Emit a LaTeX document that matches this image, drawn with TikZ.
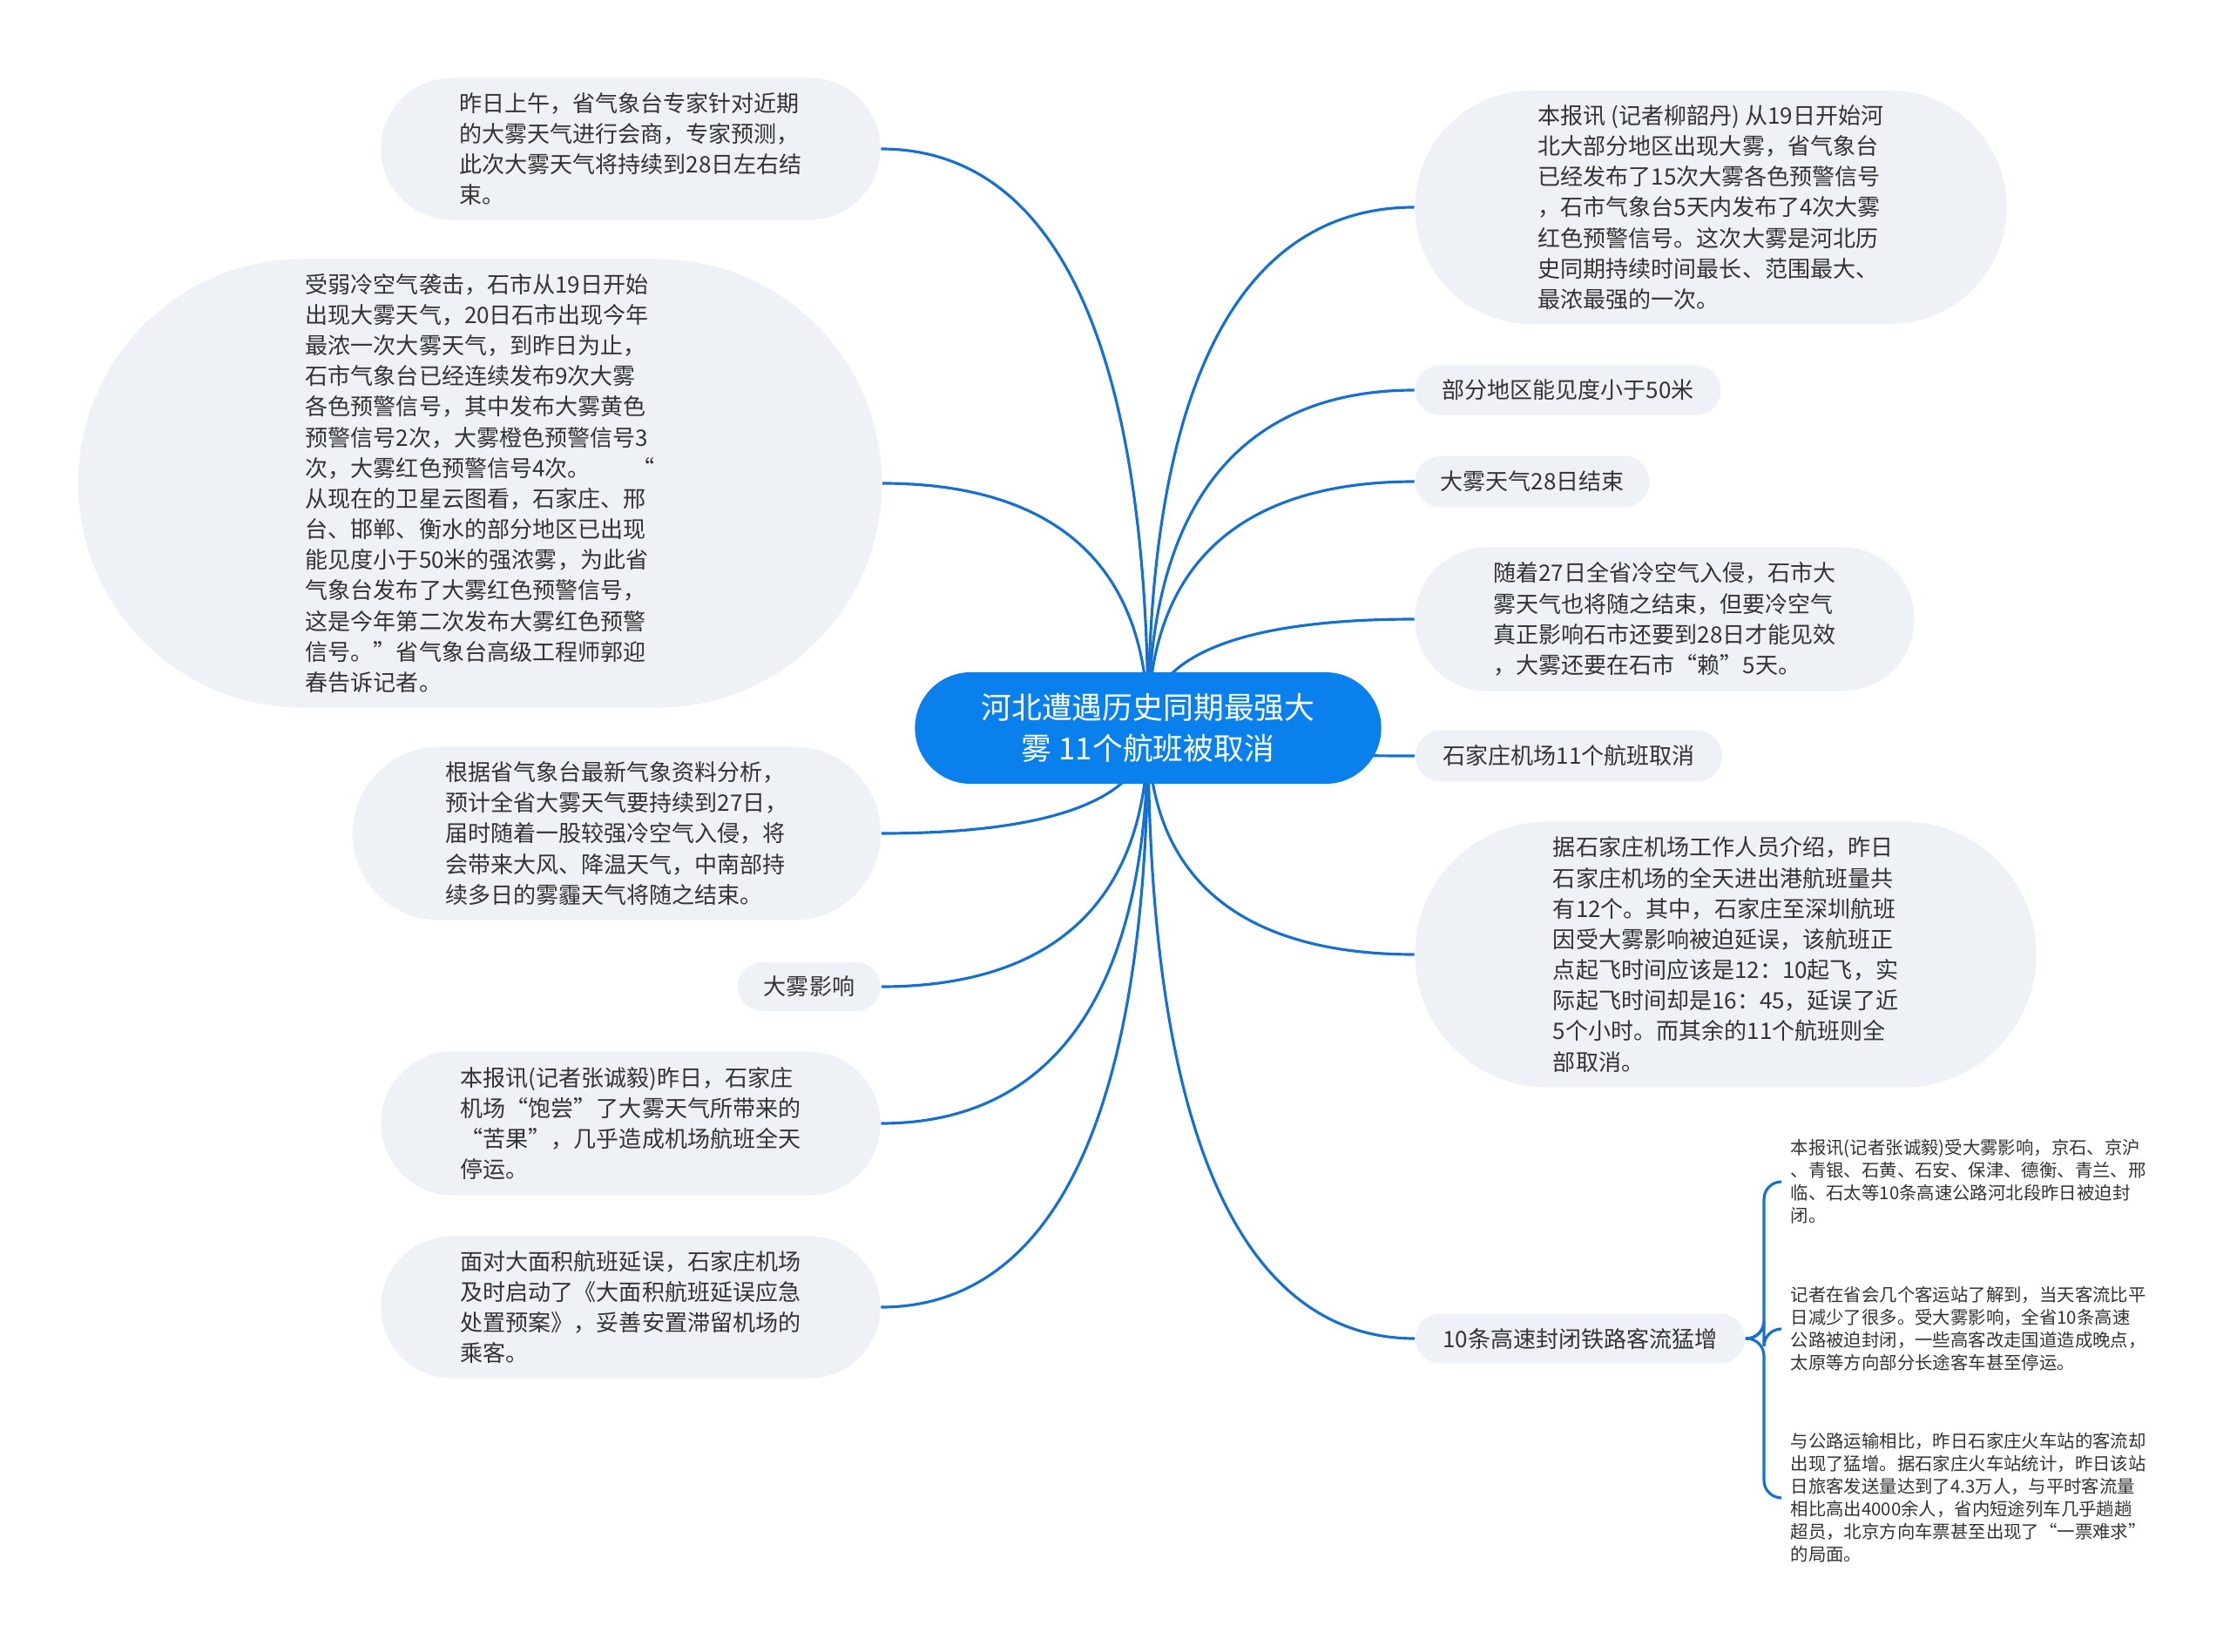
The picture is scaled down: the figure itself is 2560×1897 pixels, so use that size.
\documentclass[tikz,border=0pt]{standalone}
\usepackage{fontspec}
\setmainfont{Noto Sans CJK SC}
\usetikzlibrary{calc,backgrounds}
\definecolor{topicblue}{RGB}{10,128,236}
\definecolor{linkblue}{RGB}{22,112,208}
\definecolor{bubblegray}{RGB}{238,241,245}
\definecolor{textgray}{RGB}{51,51,51}
\tikzset{
topic/.style={fill=topicblue,text=white,align=center,rounded corners=0.64cm,minimum width=5.35cm,minimum height=1.28cm,font=\fontsize{9.9}{13.4}\selectfont},
bubble/.style 2 args={fill=bubblegray,text=textgray,align=left,inner sep=0pt,minimum width=#1,minimum height=#2,rounded corners=#2/2,font=\fontsize{7.4}{10}\selectfont},
leaf/.style={anchor=west,text=textgray,align=left,inner xsep=0.1cm,inner ysep=0pt,font=\fontsize{5.8}{7.4}\selectfont},
link/.style={draw=linkblue,line width=0.9pt}
}

\begin{document}
\begin{tikzpicture}[x=0.01cm,y=-0.01cm]
\useasboundingbox (0,0) rectangle (2560,1897);
\node[topic] (root) at (1318,836) {河北遭遇历史同期最强大\\雾 11个航班被取消};

% left side
\node[bubble={5.73cm}{1.63cm}] (forecast) at (724,171) {昨日上午，省气象台专家针对近期\\的大雾天气进行会商，专家预测，\\此次大雾天气将持续到28日左右结\\束。};
\node[bubble={9.22cm}{5.15cm},text width=4.0cm] (alerts) at (551,555) {受弱冷空气袭击，石市从19日开始\\出现大雾天气，20日石市出现今年\\最浓一次大雾天气，到昨日为止，\\石市气象台已经连续发布9次大雾\\各色预警信号，其中发布大雾黄色\\预警信号2次，大雾橙色预警信号3\\次，大雾红色预警信号4次。\hfill“\\从现在的卫星云图看，石家庄、邢\\台、邯郸、衡水的部分地区已出现\\能见度小于50米的强浓雾，为此省\\气象台发布了大雾红色预警信号，\\这是今年第二次发布大雾红色预警\\信号。”省气象台高级工程师郭迎\\春告诉记者。};
\node[bubble={6.06cm}{1.99cm}] (coldair) at (708,957) {根据省气象台最新气象资料分析，\\预计全省大雾天气要持续到27日，\\届时随着一股较强冷空气入侵，将\\会带来大风、降温天气，中南部持\\续多日的雾霾天气将随之结束。};
\node[bubble={1.64cm}{0.56cm}] (impact) at (929,1133) {大雾影响};
\node[bubble={5.73cm}{1.65cm}] (airport) at (724,1290) {本报讯(记者张诚毅)昨日，石家庄\\机场“饱尝”了大雾天气所带来的\\“苦果”，几乎造成机场航班全天\\停运。};
\node[bubble={5.73cm}{1.63cm}] (plan) at (724,1501) {面对大面积航班延误，石家庄机场\\及时启动了《大面积航班延误应急\\处置预案》，妥善安置滞留机场的\\乘客。};

% right side
\node[bubble={6.79cm}{2.68cm}] (report) at (1964,238) {本报讯 (记者柳韶丹) 从19日开始河\\北大部分地区出现大雾，省气象台\\已经发布了15次大雾各色预警信号\\，石市气象台5天内发布了4次大雾\\红色预警信号。这次大雾是河北历\\史同期持续时间最长、范围最大、\\最浓最强的一次。};
\node[bubble={3.51cm}{0.57cm}] (visibility) at (1800,448) {部分地区能见度小于50米};
\node[bubble={2.69cm}{0.59cm}] (endday) at (1759,553) {大雾天气28日结束};
\node[bubble={5.73cm}{1.65cm}] (relief) at (1911,711) {随着27日全省冷空气入侵，石市大\\雾天气也将随之结束，但要冷空气\\真正影响石市还要到28日才能见效\\，大雾还要在石市“赖”5天。};
\node[bubble={3.52cm}{0.59cm}] (cancel) at (1801,868) {石家庄机场11个航班取消};
\node[bubble={7.13cm}{3.05cm}] (flights) at (1981,1096) {据石家庄机场工作人员介绍，昨日\\石家庄机场的全天进出港航班量共\\有12个。其中，石家庄至深圳航班\\因受大雾影响被迫延误，该航班正\\点起飞时间应该是12：10起飞，实\\际起飞时间却是16：45，延误了近\\5个小时。而其余的11个航班则全\\部取消。};
\node[bubble={3.78cm}{0.57cm}] (highway) at (1814,1537) {10条高速封闭铁路客流猛增};

% details of highway
\node[leaf] (closure) at (2045,1357) {本报讯(记者张诚毅)受大雾影响，京石、京沪\\、青银、石黄、石安、保津、德衡、青兰、邢\\临、石太等10条高速公路河北段昨日被迫封\\闭。};
\node[leaf] (coach) at (2045,1526) {记者在省会几个客运站了解到，当天客流比平\\日减少了很多。受大雾影响，全省10条高速\\公路被迫封闭，一些高客改走国道造成晚点，\\太原等方向部分长途客车甚至停运。};
\node[leaf] (rail) at (2045,1720) {与公路运输相比，昨日石家庄火车站的客流却\\出现了猛增。据石家庄火车站统计，昨日该站\\日旅客发送量达到了4.3万人，与平时客流量\\相比高出4000余人，省内短途列车几乎趟趟\\超员，北京方向车票甚至出现了“一票难求”\\的局面。};

\begin{scope}[on background layer]
\foreach \n in {forecast,alerts,coldair,impact,airport,plan}
  \draw[link] (root.center) .. controls ($(root.center)!.8!(root.center|-\n.east)$) and ($(\n.east)!.5!(root.center|-\n.east)$) .. (\n.east);
\foreach \n in {report,visibility,endday,relief,cancel,flights,highway}
  \draw[link] (root.center) .. controls ($(root.center)!.8!(root.center|-\n.west)$) and ($(\n.west)!.5!(root.center|-\n.west)$) .. (\n.west);
\end{scope}

\coordinate (spine) at (2025,1537);
\foreach \n in {closure,coach,rail}
  \draw[link,rounded corners=0.2cm] (highway.east) -- (spine) |- (\n.west);
\end{tikzpicture}
\end{document}
